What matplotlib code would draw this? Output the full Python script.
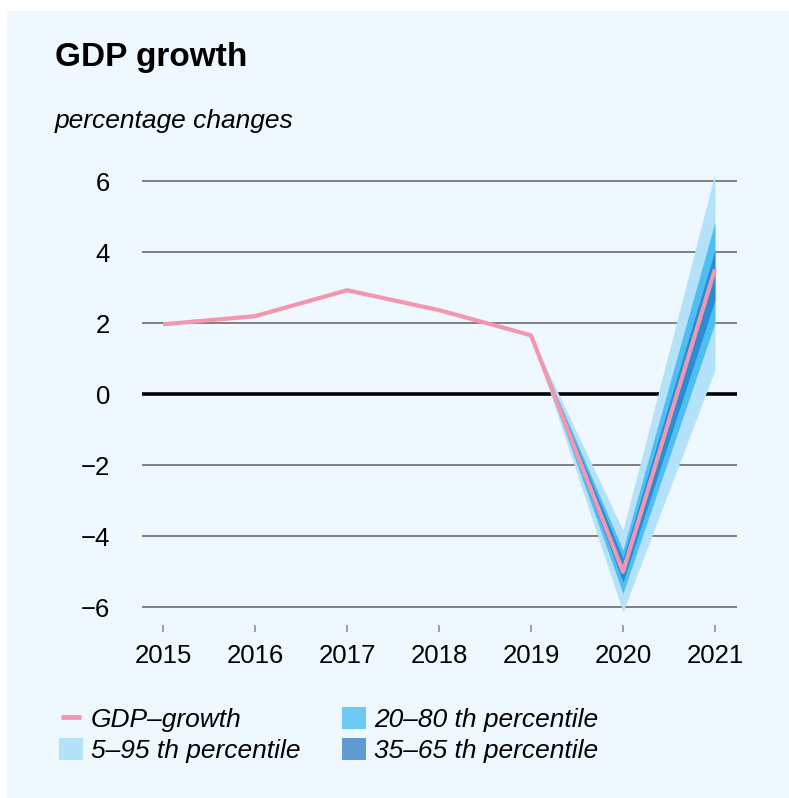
import numpy as np
import matplotlib
matplotlib.use('Agg')
from matplotlib import pyplot as plt
from matplotlib.patches import Rectangle, Patch
from matplotlib.lines import Line2D

plt.rcParams['font.family'] = ['Liberation Sans', 'DejaVu Sans']

# GDP growth, percentage changes
years = [2015, 2016, 2017, 2018, 2019, 2020, 2021]
gdp = [1.97, 2.2, 2.93, 2.37, 1.66, -5.0, 3.52]

# forecast fan (percentiles)
band_years = [2019, 2020, 2021]
p05 = [1.66, -6.13, 0.68]
p95 = [1.66, -3.83, 6.22]
p20 = [1.66, -5.61, 2.0]
p80 = [1.66, -4.39, 4.85]
p35 = [1.66, -5.3, 2.65]
p65 = [1.66, -4.62, 4.06]

yticks = [-6, -4, -2, 0, 2, 4, 6]

bg = '#eef8fe'
pink = '#f496b0'

fig = plt.figure(figsize=(7.89, 7.98), dpi=100, facecolor='white')
fig.patches.append(Rectangle((7/789, 0), 1, 1 - 11/798, transform=fig.transFigure,
                             facecolor=bg, edgecolor='none', zorder=-10))

ax = fig.add_axes([142/789, (798-625)/798, 595/789, 461.5/798])
ax.set_facecolor(bg)
ax.patch.set_alpha(0)

for y in yticks:
    if y == 0:
        ax.axhline(0, color='black', lw=2.6, zorder=1)
    else:
        ax.axhline(y, color='#6b6b6b', lw=1.2, zorder=1)

ax.fill_between(band_years, p05, p95, color='#b5e2fb', lw=0, zorder=2)
ax.fill_between(band_years, p20, p80, color='#4fbff3', lw=0, zorder=3)
ax.fill_between(band_years, p35, p65, color='#2a8dd3', lw=0, zorder=4)
ax.plot(years, gdp, color=pink, lw=3, solid_capstyle='butt', zorder=5)

ax.set_xlim(2014.77, 2021.24)
ax.set_ylim(-6.5, 6.5)
ax.set_xticks(years)
ax.set_yticks(yticks)
for s in ax.spines.values():
    s.set_visible(False)
ax.tick_params(axis='x', length=5, width=1.1, color='#8a8a8a', pad=9, labelsize=18.5)
ax.tick_params(axis='y', length=0, pad=23, labelsize=18.5)

fig.text(55/789, 1 - 66/798, 'GDP growth', fontsize=24, fontweight='bold', va='baseline')
fig.text(55/789, 1 - 128/798, 'percentage changes', fontsize=19, style='italic', va='baseline')

handles = [Line2D([], [], color=pink, marker='_', markersize=15, mew=3.5, ls='none'),
           Patch(facecolor='#b5e2fb', edgecolor='none'),
           Patch(facecolor='#6ccaf5', edgecolor='none'),
           Patch(facecolor='#5f9bd0', edgecolor='none')]
labels = ['GDP–growth', '5–95 th percentile', '20–80 th percentile', '35–65 th percentile']
leg = fig.legend(handles, labels, ncol=2, loc='upper left',
                 bbox_to_anchor=(59/789, 1 - 707/798), frameon=False,
                 prop={'size': 19, 'style': 'italic'}, handlelength=0.9,
                 handleheight=0.9, handletextpad=0.3, columnspacing=1.6,
                 labelspacing=0.22, borderpad=0, borderaxespad=0)

fig.savefig('out.png', dpi=100, facecolor='white')
